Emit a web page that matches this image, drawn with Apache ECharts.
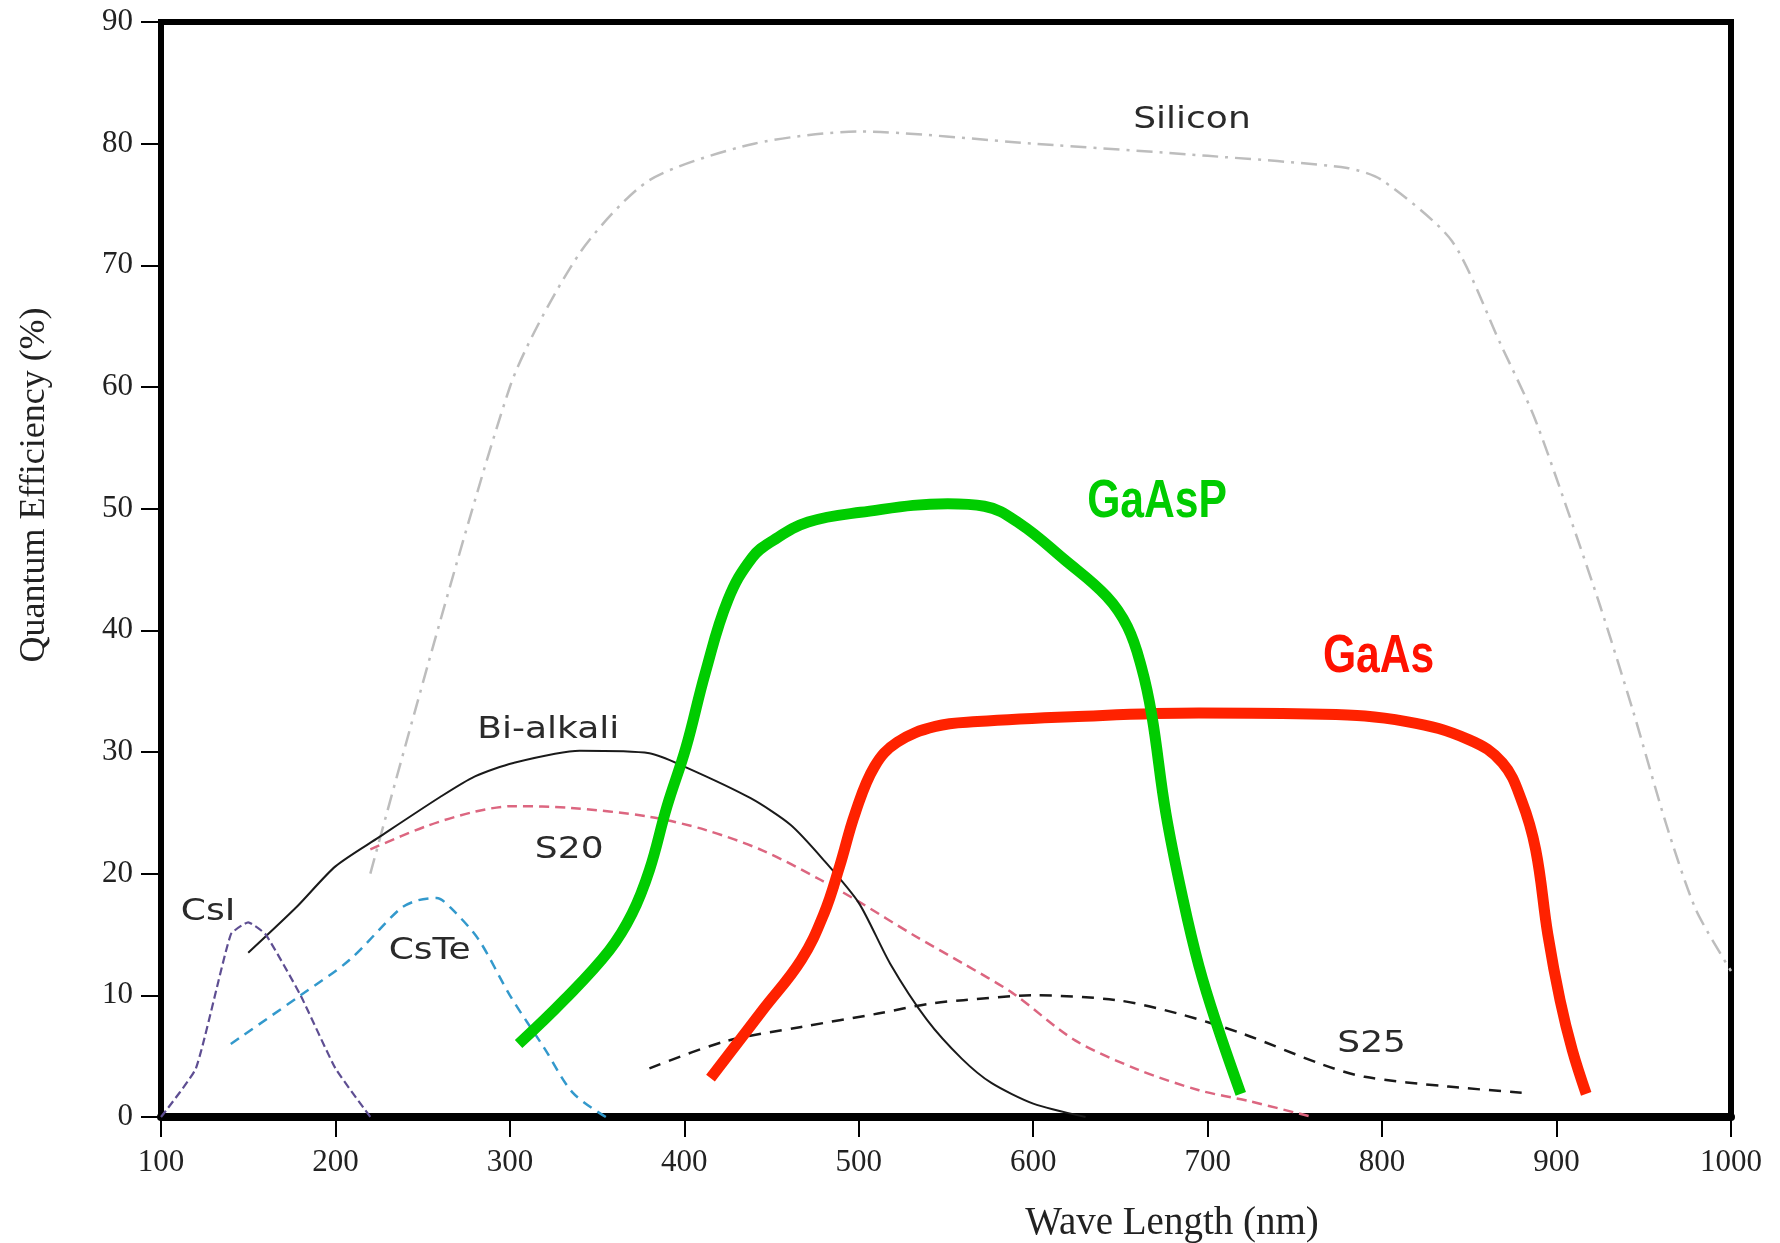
<!DOCTYPE html>
<html>
<head>
<meta charset="utf-8">
<script src="https://cdn.jsdelivr.net/npm/echarts@6/dist/echarts.min.js"></script>
<style>
html,body{margin:0;padding:0;background:#fff;}
#chart{width:1780px;height:1243px;}
</style>
</head>
<body>
<div id="chart"></div>
<script>
// ---- data (wavelength nm, quantum efficiency %) ----
const siliconX = [220, 300, 340, 380, 440, 500, 600, 700, 780, 800, 840, 868, 887, 906, 925, 944, 963, 980, 1000];
const siliconY = [20, 60, 71, 77, 80, 81, 80, 79, 78, 77, 72, 63.5, 57.6, 50, 42, 33.3, 24, 17, 12];

const bialkaliX = [150, 178, 200, 225, 260, 280, 302, 340, 380, 400, 438, 461, 480, 500, 518, 539, 559, 576, 600, 630];
const bialkaliY = [13.5, 17.3, 20.6, 23, 26.3, 28, 29.1, 30.1, 29.9, 28.8, 26.2, 24, 21.1, 17.6, 12.6, 8, 4.8, 2.8, 1.1, 0];

const s20X = [220, 252, 280, 302, 335, 379, 412, 445, 478, 500, 532, 560, 588, 624, 660, 695, 724, 760];
const s20Y = [22, 23.9, 25.1, 25.55, 25.4, 24.7, 23.6, 21.9, 19.5, 17.7, 14.9, 12.6, 10.2, 6.3, 3.9, 2.2, 1.3, 0];

const csiX = [100, 120, 140, 150, 160, 180, 200, 220];
const csiY = [0, 4, 15, 16, 15, 10, 4, 0];

const csteX = [140, 180, 208, 237, 247, 258, 266, 282, 300, 320, 336, 355];
const csteY = [6, 10, 12.9, 17.1, 17.8, 18, 17.2, 14.6, 10, 5.6, 2, 0];

const s25X = [380, 423, 467, 511, 540, 560, 600, 648, 683, 719, 766, 790, 838, 880];
const s25Y = [4, 6.2, 7.4, 8.5, 9.3, 9.6, 10, 9.6, 8.5, 6.9, 4.3, 3.3, 2.5, 2];

const gaaspX = [305, 331, 357, 370, 380, 390, 401, 412, 425, 439, 451, 471, 501, 551, 572, 592, 618, 642, 654, 662, 668, 676, 686, 695, 705, 719];
const gaaspY = [6, 9.6, 13.7, 16.7, 20.3, 25.5, 30.4, 36.5, 42.5, 46, 47.4, 48.9, 49.7, 50.4, 50.2, 48.8, 45.8, 42.8, 40.3, 37, 33, 25, 17.8, 12.4, 7.7, 1.9];

const gaasX = [415, 445, 467, 480, 489, 498, 509, 522, 544, 568, 622, 695, 766, 814, 850, 869, 880, 888, 895, 902, 909, 917];
const gaasY = [3.2, 8.8, 12.9, 16.7, 20.6, 25, 28.8, 30.8, 32.1, 32.5, 32.9, 33.2, 33.1, 32.5, 31, 29.1, 26, 22, 15, 9.6, 5.5, 1.9];

const xTicks = [100, 200, 300, 400, 500, 600, 700, 800, 900, 1000];
const yTicks = [0, 10, 20, 30, 40, 50, 60, 70, 80, 90];

// in-plot curve labels: [text, wavelength, QE]
const curveLabels = [
  ['Silicon', 691, 81.9],
  ['Bi-alkali', 322, 31.8],
  ['S20', 334, 21.9],
  ['CsTe', 254, 13.6],
  ['CsI', 127, 16.8],
  ['S25', 794, 6.0],
  ['GaAsP', 671, 50.5],
  ['GaAs', 798, 37.8]
];

function zip(xs, ys) { return xs.map((x, i) => [x, ys[i]]); }

const chart = echarts.init(document.getElementById('chart'), null, {renderer: 'canvas'});

function mkLine(name, xs, ys, color, width, type, smooth, z) {
  return {
    name: name, type: 'line', data: zip(xs, ys), showSymbol: false, symbol: 'none',
    smooth: smooth, z: z || 2, animation: false,
    lineStyle: {color: color, width: width, type: type, cap: 'butt', join: 'round'}
  };
}

const serif = '"Liberation Serif", "Times New Roman", serif';

const option = {
  backgroundColor: '#ffffff',
  animation: false,
  grid: {left: 161, right: 49, top: 22, bottom: 126, show: true, borderColor: '#000', borderWidth: 6, backgroundColor: 'transparent'},
  xAxis: {
    type: 'value', min: xTicks[0], max: xTicks[xTicks.length - 1], interval: 100,
    axisLine: {show: true, onZero: false, lineStyle: {color: '#000', width: 8}},
    axisTick: {show: true, length: 20, inside: false, lineStyle: {color: '#000', width: 2}},
    axisLabel: {show: true, margin: 30, color: '#222', fontFamily: serif, fontSize: 31, formatter: function (v) { return String(v); }},
    splitLine: {show: false}
  },
  yAxis: {
    type: 'value', min: yTicks[0], max: yTicks[yTicks.length - 1], interval: 10,
    axisLine: {show: true, onZero: false, lineStyle: {color: '#000', width: 6}},
    axisTick: {show: true, length: 20, inside: false, lineStyle: {color: '#000', width: 2}},
    axisLabel: {show: true, margin: 28, color: '#222', fontFamily: serif, fontSize: 31, formatter: function (v) { return String(v); }},
    splitLine: {show: false}
  },
  series: [
    mkLine('Silicon', siliconX, siliconY, '#bdbdbd', 2.5, [16, 7, 3, 7], 0.25, 2),
    mkLine('S20', s20X, s20Y, '#dc6680', 2.5, [10, 6], 0.3, 3),
    mkLine('Bi-alkali', bialkaliX, bialkaliY, '#1a1a1a', 2, 'solid', 0.25, 3),
    mkLine('CsI', csiX, csiY, '#5e4e92', 2.2, [8, 4], 0.15, 3),
    mkLine('CsTe', csteX, csteY, '#3399cc', 2.5, [10, 7], 0.3, 3),
    mkLine('S25', s25X, s25Y, '#1a1a1a', 2.5, [12, 9], 0.3, 3),
    mkLine('GaAs', gaasX, gaasY, '#ff2200', 11, 'solid', 0.4, 5),
    mkLine('GaAsP', gaaspX, gaaspY, '#00cc00', 11, 'solid', 0.4, 6)
  ]
};
chart.setOption(option);

const labelStyles = {
  'GaAsP': {fill: '#00cc00', font: 'bold 54px "Liberation Sans", Arial, sans-serif', sx: 0.79},
  'GaAs': {fill: '#ff1100', font: 'bold 54px "Liberation Sans", Arial, sans-serif', sx: 0.79}
};
const graphics = curveLabels.map(function (l) {
  const p = chart.convertToPixel({gridIndex: 0}, [l[1], l[2]]);
  const st = labelStyles[l[0]] || {fill: '#2a2a2a', font: '30px "DejaVu Sans", Verdana, sans-serif', sx: 1.2};
  return {
    type: 'text', x: p[0], y: p[1], z: 10, scaleX: st.sx, scaleY: 1,
    style: {text: l[0], fill: st.fill, font: st.font, textAlign: 'center', textVerticalAlign: 'middle'}
  };
});
graphics.push({
  type: 'text', x: 1172, y: 1224, z: 10,
  style: {text: 'Wave Length (nm)', fill: '#222', font: '39px ' + serif, textAlign: 'center', textVerticalAlign: 'middle'}
});
graphics.push({
  type: 'text', x: 35, y: 485, rotation: Math.PI / 2, z: 10,
  style: {text: 'Quantum Efficiency (%)', fill: '#222', font: '36px ' + serif, textAlign: 'center', textVerticalAlign: 'middle'}
});
chart.setOption({graphic: graphics});
</script>
</body>
</html>
